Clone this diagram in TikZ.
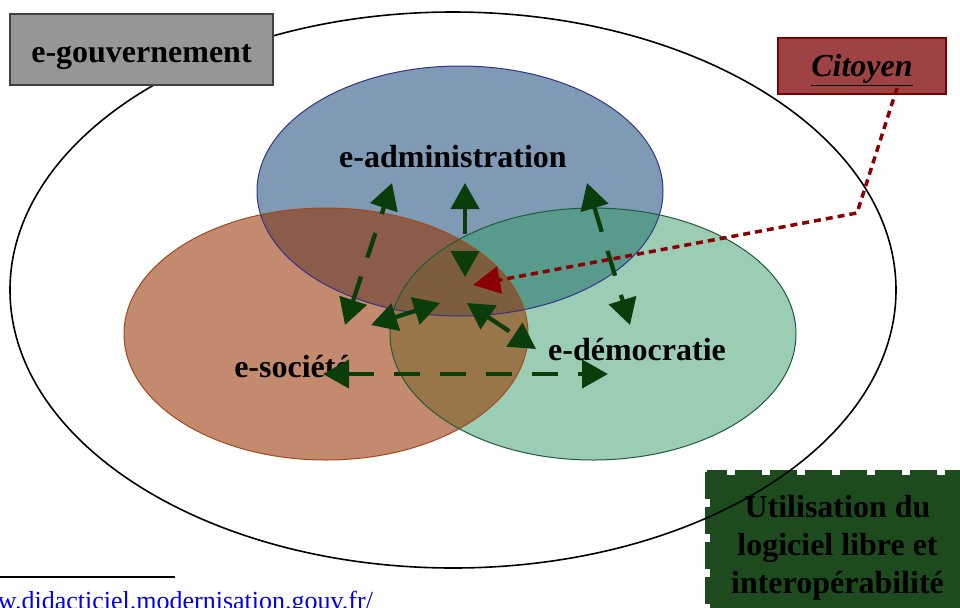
\documentclass[tikz,border=0pt]{standalone}
\usepackage{fontspec}
\setmainfont{Liberation Serif}
\usetikzlibrary{arrows.meta}

\definecolor{adminbleu}{HTML}{7F9AB4}
\definecolor{socorange}{HTML}{C48A6D}
\definecolor{demvert}{HTML}{9BCDB4}
\definecolor{adminsoc}{HTML}{8C5C4B}
\definecolor{admindem}{HTML}{589A8C}
\definecolor{socdem}{HTML}{98764A}
\definecolor{troisfond}{HTML}{7C5D3D}
\definecolor{bleubord}{HTML}{33338C}
\definecolor{orangebord}{HTML}{A04A1E}
\definecolor{vertbord}{HTML}{1F5A3A}
\definecolor{vertfleche}{HTML}{0B3D0B}
\definecolor{rougelien}{HTML}{8B0000}
\definecolor{citfond}{HTML}{9E4343}
\definecolor{citbord}{HTML}{7F0000}
\definecolor{grisfond}{HTML}{969696}
\definecolor{grisbord}{HTML}{404040}
\definecolor{logvert}{HTML}{1D4B1D}
\definecolor{lienbleu}{HTML}{0000EE}

\tikzset{
    etiquette/.style={font=\fontsize{16}{19}\selectfont\bfseries},
    lien/.style={draw=vertfleche, line width=2.15pt, dash pattern=on 13pt off 10pt,
        {Triangle[length=13pt,width=14pt]}-{Triangle[length=13pt,width=14pt]}},
    pointille/.style={draw=rougelien, line width=1.75pt, dash pattern=on 3.5pt off 2.5pt,
        -{Triangle[length=13.5pt,width=13.5pt]}},
}

\begin{document}
\begin{tikzpicture}[x=0.5pt, y=-0.5pt]
    \useasboundingbox (0,0) rectangle (960,607);
    \clip (0,0) rectangle (960,607);

    % cadre logiciel libre
    \node[etiquette, fill=logvert, align=center, minimum width=127.5pt, minimum height=73pt,
        inner sep=0pt] (logiciel) at (837.5,548)
        {Utilisation du\\logiciel libre et\\interopérabilité};
    \draw[logvert, line width=2.5pt, dash pattern=on 13.5pt off 4pt]
        ([shift={(-1.25pt,1.25pt)}]logiciel.north west) rectangle
        ([shift={(1.25pt,-1.25pt)}]logiciel.south east);

    % e-gouvernement
    \draw[line width=0.8pt] (453,290) ellipse [x radius=443, y radius=278];
    \node[draw=grisbord, fill=grisfond, line width=0.8pt,
        minimum width=131.5pt, minimum height=35.5pt] (gouv) at (141.5,49.5) {};
    \node[etiquette, anchor=base] (gouvtexte) at (141.5,62) {e-gouvernement};

    % les trois domaines
    \fill[adminbleu] (460,191) ellipse [x radius=203, y radius=125];
    \fill[socorange] (326,334) ellipse [x radius=202, y radius=126];
    \fill[demvert] (593,334) ellipse [x radius=203, y radius=126];
    \begin{scope}
        \clip (326,334) ellipse [x radius=202, y radius=126];
        \fill[socdem] (593,334) ellipse [x radius=203, y radius=126];
    \end{scope}
    \begin{scope}
        \clip (460,191) ellipse [x radius=203, y radius=125];
        \fill[adminsoc] (326,334) ellipse [x radius=202, y radius=126];
        \fill[admindem] (593,334) ellipse [x radius=203, y radius=126];
        \clip (326,334) ellipse [x radius=202, y radius=126];
        \fill[troisfond] (593,334) ellipse [x radius=203, y radius=126];
    \end{scope}
    \draw[bleubord, line width=0.5pt] (460,191) ellipse [x radius=203, y radius=125];
    \draw[orangebord, line width=0.5pt] (326,334) ellipse [x radius=202, y radius=126];
    \draw[vertbord, line width=0.5pt] (593,334) ellipse [x radius=203, y radius=126];

    \node[etiquette] (admin) at (453,157) {e-administration};
    \node[etiquette] (societe) at (292,367) {e-société};
    \node[etiquette] (democ) at (637,350) {e-démocratie};

    % liens entre domaines
    \coordinate (s1) at (345,325);
    \coordinate (a1) at (392,183);
    \coordinate (a2) at (465,183);
    \coordinate (c2) at (465,277);
    \coordinate (a3) at (587,183);
    \coordinate (d3) at (630,325);
    \coordinate (s4) at (323,374);
    \coordinate (d4) at (608,374);
    \coordinate (s5) at (371,325);
    \coordinate (c5) at (440,303);
    \coordinate (c6) at (467,303);
    \coordinate (d6) at (536,349);
    \draw[lien] (s1) -- (a1);
    \draw[lien] (a2) -- (c2);
    \draw[lien] (a3) -- (d3);
    \draw[lien] (s4) -- (d4);
    \draw[lien] (s5) -- (c5);
    \draw[lien] (c6) -- (d6);

    % citoyen
    \node[draw=citbord, fill=citfond, line width=1pt,
        minimum width=84pt, minimum height=28pt] (citoyen) at (862,66) {};
    \node[etiquette, anchor=base] (citoyentexte) at (862,76) {\textit{\underline{Citoyen}}};
    \coordinate (depart) at (897,88);
    \coordinate (coude) at (857,213);
    \coordinate (cible) at (473,285);
    \draw[pointille] (depart) -- (coude) -- (cible);

    % note de bas de page
    \coordinate (note1) at (0,577);
    \coordinate (note2) at (175,577);
    \draw[line width=0.8pt] (note1) -- (note2);
    \node[anchor=base west, inner sep=0pt, text=lienbleu, font=\fontsize{13}{15}\selectfont]
        (source) at (-40,609) {www.didacticiel.modernisation.gouv.fr/};
\end{tikzpicture}
\end{document}
